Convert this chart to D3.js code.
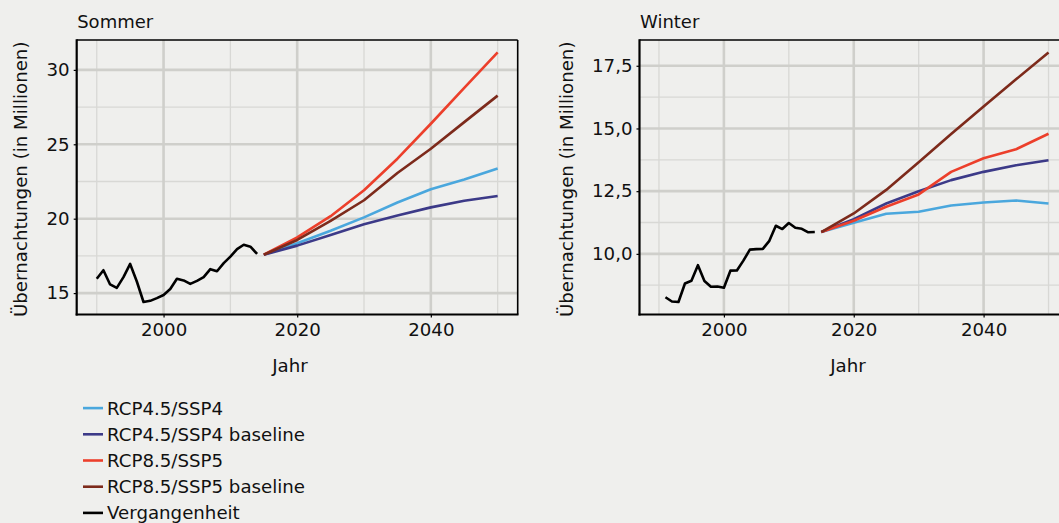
<!DOCTYPE html>
<html><head><meta charset="utf-8">
<script src="https://cdn.jsdelivr.net/npm/d3@7"></script>
<style>
html,body{margin:0;padding:0;background:#efefed;}
svg{display:block;font-family:"DejaVu Sans",sans-serif;}
</style></head>
<body><svg id="c" width="1059" height="523"></svg>
<script>
// ---- data ----
const summerPastYears = [1990,1991,1992,1993,1994,1995,1996,1997,1998,1999,2000,2001,2002,2003,2004,2005,2006,2007,2008,2009,2010,2011,2012,2013,2014];
const summerPast = [15.96,16.54,15.58,15.35,16.07,16.96,15.78,14.40,14.48,14.66,14.87,15.27,15.96,15.85,15.62,15.82,16.07,16.61,16.47,17.01,17.45,17.95,18.25,18.12,17.63];
const winterPastYears = [1991,1992,1993,1994,1995,1996,1997,1998,1999,2000,2001,2002,2003,2004,2005,2006,2007,2008,2009,2010,2011,2012,2013,2014];
const winterPast = [8.27,8.10,8.08,8.82,8.93,9.55,8.92,8.69,8.70,8.65,9.33,9.34,9.73,10.17,10.19,10.20,10.52,11.12,10.99,11.23,11.04,11.00,10.86,10.87];
const projYears = [2015,2020,2025,2030,2035,2040,2045,2050];
const summerRCP45 = [17.58,18.35,19.19,20.09,21.09,21.98,22.63,23.37];
const summerRCP45b = [17.58,18.19,18.90,19.62,20.22,20.76,21.20,21.53];
const summerRCP85 = [17.58,18.75,20.17,21.91,24.03,26.38,28.79,31.17];
const summerRCP85b = [17.58,18.57,19.86,21.24,23.07,24.70,26.49,28.27];
const winterRCP45 = [10.87,11.24,11.60,11.68,11.93,12.05,12.13,12.01];
const winterRCP45b = [10.87,11.38,12.01,12.50,12.94,13.27,13.53,13.73];
const winterRCP85 = [10.87,11.32,11.88,12.37,13.27,13.81,14.17,14.79];
const winterRCP85b = [10.87,11.61,12.55,13.65,14.78,15.88,16.96,18.03];
const seriesNames = ["RCP4.5/SSP4","RCP4.5/SSP4 baseline","RCP8.5/SSP5","RCP8.5/SSP5 baseline","Vergangenheit"];
const seriesColors = ["#4aa7dd","#3c3a88","#ec3f2b","#7d2a1b","#000000"];
const xTicks = [2000,2020,2040];
const xMinor = [1990,2010,2030,2050];
const summerTicks = [15,20,25,30];
const summerMinor = [17.5,22.5,27.5];
const winterTicks = [10,12.5,15,17.5];
const winterMinor = [8.75,11.25,13.75,16.25];

const svg = d3.select("#c");
const FS = 18.2;
const fmtS = d => d3.format("d")(d);
const fmtW = d => d3.format(".1f")(d).replace(".", ",");

function panel(o){
  const g = svg.append("g");
  const allYears = summerPastYears.concat(projYears, winterPastYears);
  const xe = d3.extent(allYears), xs = (xe[1]-xe[0])*0.05;
  const allV = o.past.concat(...o.proj);
  const ye = d3.extent(allV), ys = (ye[1]-ye[0])*0.05;
  const x = d3.scaleLinear().domain([xe[0]-xs, xe[1]+xs]).range([o.left, o.right]);
  const y = d3.scaleLinear().domain([ye[0]-ys, ye[1]+ys]).range([o.bottom, o.top]);
  // minor grid
  g.selectAll(".mx").data(xMinor).join("line").attr("x1",d=>x(d)).attr("x2",d=>x(d))
    .attr("y1",o.top).attr("y2",o.bottom).attr("stroke","#d8d8d5").attr("stroke-width",1.3);
  g.selectAll(".my").data(o.minor).join("line").attr("y1",d=>y(d)).attr("y2",d=>y(d))
    .attr("x1",o.left).attr("x2",o.right).attr("stroke","#d8d8d5").attr("stroke-width",1.3);
  // major grid
  g.selectAll(".gx").data(xTicks).join("line").attr("x1",d=>x(d)).attr("x2",d=>x(d))
    .attr("y1",o.top).attr("y2",o.bottom).attr("stroke","#cfcfcb").attr("stroke-width",2.6);
  g.selectAll(".gy").data(o.ticks).join("line").attr("y1",d=>y(d)).attr("y2",d=>y(d))
    .attr("x1",o.left).attr("x2",o.right).attr("stroke","#cfcfcb").attr("stroke-width",2.6);
  // border top/right
  g.append("line").attr("x1",o.left).attr("x2",o.right).attr("y1",o.top).attr("y2",o.top).attr("stroke","#000").attr("stroke-width",1.6);
  g.append("line").attr("x1",o.right).attr("x2",o.right).attr("y1",o.top).attr("y2",o.bottom).attr("stroke","#000").attr("stroke-width",1.6);
  // lines
  const line = d3.line().x(d=>x(d[0])).y(d=>y(d[1]));
  o.proj.forEach((vals,i)=>{
    g.append("path").datum(projYears.map((yr,j)=>[yr,vals[j]])).attr("d",line)
      .attr("fill","none").attr("stroke",seriesColors[i]).attr("stroke-width",2.6).attr("stroke-linejoin","round");
  });
  g.append("path").datum(o.pastYears.map((yr,j)=>[yr,o.past[j]])).attr("d",line)
    .attr("fill","none").attr("stroke","#000").attr("stroke-width",2.6).attr("stroke-linejoin","round");
  // axes
  const ax = g.append("g").attr("transform",`translate(0,${o.bottom})`)
    .call(d3.axisBottom(x).tickValues(xTicks).tickFormat(fmtS).tickSize(3).tickPadding(6));
  const ay = g.append("g").attr("transform",`translate(${o.left},0)`)
    .call(d3.axisLeft(y).tickValues(o.ticks).tickFormat(o.fmt).tickSize(3).tickPadding(4));
  [ax,ay].forEach(a=>{
    a.select(".domain").remove();
    a.selectAll(".tick line").attr("stroke","#000").attr("stroke-width",1.2);
    a.selectAll("text").attr("font-size",FS).attr("fill","#111").attr("font-family","DejaVu Sans");
  });
  g.append("line").attr("x1",o.left).attr("x2",o.left).attr("y1",o.top-0.8).attr("y2",o.bottom+1).attr("stroke","#000").attr("stroke-width",2.2);
  g.append("line").attr("x1",o.left-1).attr("x2",o.right+0.8).attr("y1",o.bottom).attr("y2",o.bottom).attr("stroke","#000").attr("stroke-width",2.2);
  // titles
  g.append("text").attr("x",o.left+0.5).attr("y",28).attr("font-size",18).attr("fill","#111").text(o.title);
  g.append("text").attr("x",o.jahrX).attr("y",372).attr("text-anchor","middle").attr("font-size",FS).attr("fill","#111").text("Jahr");
  g.append("text").attr("transform",`translate(${o.ylabX},${(o.top+o.bottom)/2+2}) rotate(-90)`)
    .attr("text-anchor","middle").attr("dominant-baseline","central").attr("font-size",FS).attr("fill","#111")
    .text("Übernachtungen (in Millionen)");
}

panel({left:76.7,right:517.7,top:40,bottom:314.5,title:"Sommer",past:summerPast,pastYears:summerPastYears,
  proj:[summerRCP45,summerRCP45b,summerRCP85,summerRCP85b],ticks:summerTicks,minor:summerMinor,fmt:fmtS,jahrX:290,ylabX:20});
panel({left:639.5,right:1068,top:40,bottom:314.5,title:"Winter",past:winterPast,pastYears:winterPastYears,
  proj:[winterRCP45,winterRCP45b,winterRCP85,winterRCP85b],ticks:winterTicks,minor:winterMinor,fmt:fmtW,jahrX:848,ylabX:566});

// legend
const lg = svg.append("g");
const ly = d3.scaleBand().domain(seriesNames).range([395,526]);
seriesNames.forEach((n,i)=>{
  const yc = ly(n)+ly.bandwidth()/2;
  lg.append("line").attr("x1",83).attr("x2",103).attr("y1",yc).attr("y2",yc).attr("stroke",seriesColors[i]).attr("stroke-width",2.6);
  lg.append("text").attr("x",107).attr("y",yc).attr("dominant-baseline","central").attr("font-size",FS).attr("fill","#111").text(n);
});
</script></body></html>
